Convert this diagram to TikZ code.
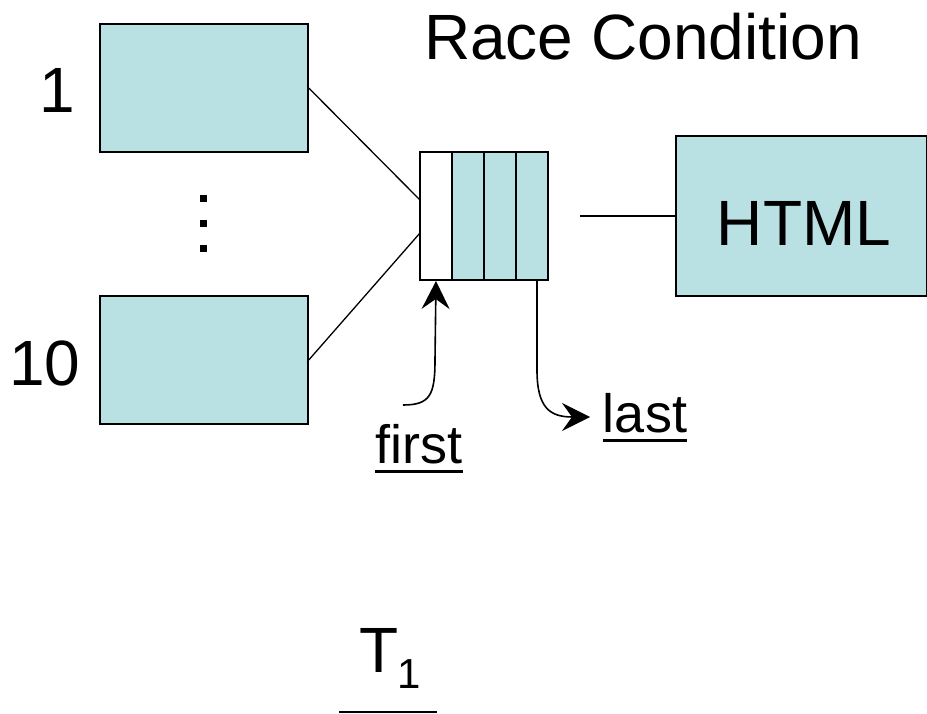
\documentclass[tikz,border=0pt]{standalone}
\usepackage{fontspec}
\setmainfont{Liberation Sans}
\usetikzlibrary{arrows.meta}
\definecolor{boxfill}{RGB}{185,224,227}
\tikzset{
  procbox/.style={draw=black, line width=1.5pt, fill=boxfill, minimum width=208pt, minimum height=128pt, inner sep=0pt},
  cell/.style={draw=black, line width=1.8pt, minimum width=32pt, minimum height=128pt, inner sep=0pt},
  wire/.style={line width=1.3pt},
  ptr/.style={line width=1.6pt, -{Stealth[length=28pt,width=28pt,inset=10pt]}},
  big/.style={font=\fontsize{64}{72}\selectfont, inner sep=0pt, anchor=base},
  lbl/.style={font=\fontsize{54}{60}\selectfont, inner sep=0pt, anchor=base},
  uline/.style={line width=3pt},
  dot/.style={fill=black, minimum size=7pt, inner sep=0pt}
}
\begin{document}
\begin{tikzpicture}[x=1pt,y=-1pt]
\useasboundingbox (0,0) rectangle (927,714);
% title
\node[big] (title) at (643,60) {Race Condition};
% process boxes
\node[procbox] (b1) at (204,88) {};
\node[procbox] (b10) at (204,360) {};
\node[big] (n1) at (57,113) {1};
\node[big] (n10) at (45,385) {10};
\node[dot] (d1) at (203.5,198.5) {};
\node[dot] (d2) at (203.5,223.5) {};
\node[dot] (d3) at (203.5,248.5) {};
% queue
\node[cell, fill=white] (q0) at (436,216) {};
\node[cell, fill=boxfill] (q1) at (468,216) {};
\node[cell, fill=boxfill] (q2) at (500,216) {};
\node[cell, fill=boxfill] (q3) at (532,216) {};
% HTML
\node[draw=black, line width=1.5pt, fill=boxfill, minimum width=251pt, minimum height=160pt, inner sep=0pt] (html) at (801.5,216) {};
\node[big] (htmltxt) at (804,246) {HTML};
% connectors
\coordinate (in1) at (420,200);
\coordinate (in10) at (420,233);
\coordinate (qout) at (580,216);
\draw[wire] (b1.east) -- (in1);
\draw[wire] (b10.east) -- (in10);
\draw[wire] (qout) -- (html.west);
% pointers
\node[lbl] (first) at (419,463) {first};
\node[lbl] (last) at (645,432) {last};
\draw[uline] ([yshift=-8pt]first.base west) -- ([yshift=-8pt]first.base east);
\draw[uline] ([yshift=-8pt]last.base west) -- ([yshift=-8pt]last.base east);
\coordinate (fstart) at (403,405);
\coordinate (ftip) at (436,281);
\draw[ptr] (fstart) .. controls (430,405) and (435,395) .. (435,360) -- (ftip);
\coordinate (lstart) at (537,281);
\coordinate (ltip) at (590,417);
\draw[ptr] (lstart) -- (537,370) .. controls (537,408) and (550,417) .. (ltip);
% T1
\node[big] (T) at (379,672) {T};
\node[font=\fontsize{42}{48}\selectfont, inner sep=0pt, anchor=base] (sub) at (409,688) {1};
\coordinate (ta) at (339,712);
\coordinate (tb) at (437,712);
\draw[wire] (ta) -- (tb);
\end{tikzpicture}
\end{document}
